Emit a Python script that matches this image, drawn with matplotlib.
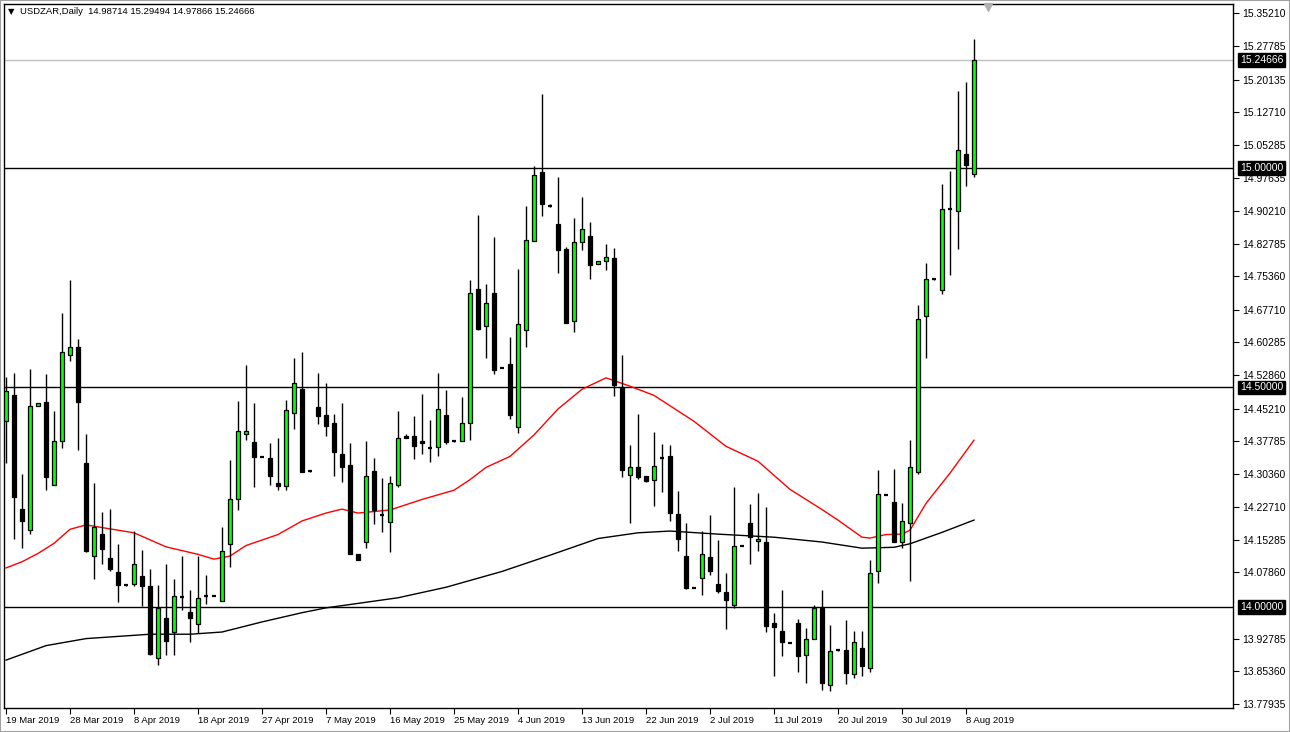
import matplotlib
matplotlib.use("Agg")
import matplotlib.pyplot as plt
import matplotlib.transforms as mtransforms

plt.rcParams['font.family'] = ['Liberation Sans', 'DejaVu Sans']

# ---------------- data ----------------
dates = ["19 Mar 2019", "28 Mar 2019", "8 Apr 2019", "18 Apr 2019", "27 Apr 2019",
         "7 May 2019", "16 May 2019", "25 May 2019", "4 Jun 2019", "13 Jun 2019",
         "22 Jun 2019", "2 Jul 2019", "11 Jul 2019", "20 Jul 2019", "30 Jul 2019",
         "8 Aug 2019"]

opens = [14.423, 14.484, 14.223, 14.175, 14.457, 14.468, 14.279, 14.377, 14.573, 14.593,
         14.328, 14.117, 14.166, 14.111, 14.079, 14.049, 14.052, 14.071, 14.048, 13.883,
         13.975, 13.943, 14.022, 13.988, 13.961, 14.024, 14.025, 14.013, 14.143, 14.245,
         14.393, 14.376, 14.342, 14.339, 14.282, 14.276, 14.443, 14.496, 14.309, 14.455,
         14.437, 14.420, 14.348, 14.323, 14.120, 14.148, 14.309, 14.210, 14.193, 14.279,
         14.389, 14.389, 14.377, 14.363, 14.364, 14.437, 14.377, 14.377, 14.418, 14.725,
         14.640, 14.716, 14.545, 14.554, 14.411, 14.632, 14.833, 14.991, 14.914, 14.873,
         14.816, 14.652, 14.832, 14.846, 14.782, 14.788, 14.795, 14.502, 14.301, 14.318,
         14.298, 14.289, 14.340, 14.344, 14.211, 14.117, 14.044, 14.065, 14.115, 14.053,
         14.034, 14.005, 14.139, 14.191, 14.150, 14.148, 13.964, 13.946, 13.918, 13.964,
         13.891, 13.927, 13.998, 13.823, 13.901, 13.903, 13.848, 13.907, 13.860, 14.083,
         14.255, 14.239, 14.148, 14.192, 14.308, 14.662, 14.747, 14.721, 14.907, 14.902,
         15.032, 14.98714]
highs = [14.523, 14.534, 14.303, 14.542, 14.464, 14.530, 14.447, 14.669, 14.746, 14.611,
         14.394, 14.282, 14.216, 14.223, 14.144, 14.050, 14.173, 14.130, 14.087, 14.051,
         14.099, 14.064, 14.116, 14.039, 14.116, 14.073, 14.026, 14.182, 14.335, 14.469,
         14.551, 14.464, 14.343, 14.373, 14.385, 14.471, 14.567, 14.582, 14.310, 14.533,
         14.510, 14.439, 14.464, 14.373, 14.120, 14.378, 14.340, 14.293, 14.298, 14.446,
         14.393, 14.434, 14.486, 14.426, 14.533, 14.494, 14.378, 14.478, 14.744, 14.892,
         14.735, 14.842, 14.546, 14.614, 14.771, 14.914, 15.005, 15.169, 14.917, 14.980,
         14.820, 14.885, 14.933, 14.877, 14.788, 14.826, 14.818, 14.573, 14.369, 14.439,
         14.298, 14.398, 14.371, 14.368, 14.265, 14.192, 14.045, 14.172, 14.209, 14.153,
         14.078, 14.273, 14.140, 14.235, 14.260, 14.228, 13.987, 14.039, 13.919, 13.972,
         13.953, 14.005, 14.039, 13.960, 13.902, 13.971, 13.946, 13.946, 14.107, 14.312,
         14.256, 14.315, 14.238, 14.381, 14.687, 14.784, 14.748, 14.964, 14.994, 15.176,
         15.195, 15.29494]
lows = [14.329, 14.154, 14.134, 14.167, 14.457, 14.267, 14.279, 14.362, 14.561, 14.358,
        14.126, 14.064, 14.098, 14.081, 14.011, 14.048, 14.047, 14.003, 13.890, 13.867,
        13.890, 13.890, 13.994, 13.920, 13.940, 14.006, 14.024, 14.013, 14.092, 14.220,
        14.381, 14.274, 14.341, 14.278, 14.267, 14.267, 14.405, 14.308, 14.308, 14.417,
        14.390, 14.299, 14.285, 14.120, 14.107, 14.134, 14.189, 14.170, 14.125, 14.273,
        14.384, 14.336, 14.348, 14.331, 14.345, 14.371, 14.376, 14.377, 14.381, 14.630,
        14.567, 14.531, 14.544, 14.429, 14.397, 14.592, 14.833, 14.890, 14.912, 14.760,
        14.647, 14.626, 14.814, 14.748, 14.782, 14.767, 14.481, 14.297, 14.191, 14.291,
        14.285, 14.229, 14.262, 14.196, 14.127, 14.040, 14.043, 14.027, 14.072, 14.033,
        13.951, 13.998, 14.138, 14.097, 14.127, 13.943, 13.842, 13.888, 13.917, 13.852,
        13.827, 13.927, 13.811, 13.808, 13.900, 13.824, 13.839, 13.842, 13.852, 14.055,
        14.254, 14.148, 14.134, 14.059, 14.302, 14.568, 14.746, 14.713, 14.757, 14.815,
        14.958, 14.97866]
closes = [14.491, 14.251, 14.195, 14.457, 14.464, 14.297, 14.377, 14.582, 14.593, 14.467,
          14.128, 14.182, 14.132, 14.087, 14.051, 14.049, 14.098, 14.047, 13.892, 13.998,
          13.922, 14.025, 14.022, 13.975, 14.020, 14.024, 14.025, 14.127, 14.245, 14.400,
          14.400, 14.342, 14.342, 14.298, 14.276, 14.448, 14.511, 14.308, 14.309, 14.436,
          14.413, 14.352, 14.318, 14.120, 14.107, 14.299, 14.221, 14.210, 14.282, 14.386,
          14.384, 14.367, 14.373, 14.363, 14.450, 14.376, 14.377, 14.418, 14.716, 14.633,
          14.693, 14.540, 14.545, 14.438, 14.645, 14.836, 14.984, 14.917, 14.914, 14.813,
          14.647, 14.832, 14.861, 14.779, 14.788, 14.798, 14.506, 14.313, 14.320, 14.297,
          14.286, 14.322, 14.340, 14.215, 14.154, 14.044, 14.044, 14.121, 14.083, 14.036,
          14.015, 14.139, 14.139, 14.159, 14.155, 13.957, 13.954, 13.920, 13.918, 13.888,
          13.926, 13.998, 13.827, 13.900, 13.901, 13.850, 13.920, 13.865, 14.077, 14.257,
          14.255, 14.149, 14.195, 14.320, 14.656, 14.747, 14.747, 14.906, 14.907, 15.042,
          15.006, 15.24666]

# moving averages (bar index, value)
ma_red_bars = [0, 2, 4, 6, 8, 10, 12, 16, 20, 24, 26, 28, 30, 34, 37, 40, 42, 44, 48, 52,
               56, 58, 60, 63, 66, 69, 72, 75, 78, 81, 86, 90, 94, 98, 100, 102, 104, 107,
               108, 110, 112, 113, 115, 118, 121]
ma_red_vals = [14.089, 14.103, 14.122, 14.145, 14.177, 14.187, 14.181, 14.169, 14.137, 14.120,
               14.109, 14.116, 14.140, 14.165, 14.196, 14.214, 14.223, 14.214, 14.221, 14.245,
               14.266, 14.290, 14.318, 14.343, 14.392, 14.451, 14.496, 14.522, 14.503, 14.482,
               14.423, 14.366, 14.332, 14.268, 14.245, 14.222, 14.198, 14.159, 14.157, 14.165,
               14.166, 14.175, 14.236, 14.305, 14.380]
ma_black_bars = [0, 5, 10, 18, 23, 27, 32, 37, 40, 49, 55, 62, 68, 74, 79, 83, 89, 96, 102,
                 107, 111, 113, 117, 121]
ma_black_vals = [13.879, 13.912, 13.928, 13.938, 13.938, 13.943, 13.966, 13.987, 13.998, 14.021,
                 14.045, 14.081, 14.118, 14.156, 14.169, 14.173, 14.166, 14.159, 14.148, 14.134,
                 14.136, 14.144, 14.170, 14.198]

levels = [15.0, 14.5, 14.0]
last_price = 15.24666
ytick_vals = [15.35210, 15.27785, 15.20135, 15.12710, 15.05285, 14.97635, 14.90210, 14.82785,
              14.75360, 14.67710, 14.60285, 14.52860, 14.45210, 14.37785, 14.30360, 14.22710,
              14.15285, 14.07860, 13.92785, 13.85360, 13.77935]
header = "USDZAR,Daily  14.98714 15.29494 14.97866 15.24666"

# ---------------- figure ----------------
W, H = 1290, 732
fig = plt.figure(figsize=(W / 100, H / 100), dpi=100)
fig.patch.set_facecolor('white')
x0, x1, ytop, ybot = 4, 1233, 4, 708
ax = fig.add_axes([x0 / W, (H - ybot) / H, (x1 - x0) / W, (ybot - ytop) / H])

bar_step = 8.0
first_px = 6.0
ax.set_xlim((x0 - first_px) / bar_step, (x1 - first_px) / bar_step)
ppu = 439.0  # pixels per price unit
ax.set_ylim(14 + (607 - ybot) / ppu, 14 + (607 - ytop) / ppu)

n = len(opens)
xs = list(range(n))

# level lines
for lv in levels:
    ax.axhline(lv, color='black', lw=1.0, zorder=1)
ax.axhline(last_price, color='#c0c0c0', lw=1.0, zorder=1)

# moving averages
ax.plot(ma_black_bars, ma_black_vals, color='black', lw=1.0, zorder=2)
ax.plot(ma_red_bars, ma_red_vals, color='#ff0000', lw=1.0, zorder=2)

# candles
ax.vlines(xs, lows, highs, color='black', lw=1.0, zorder=3)
bw = 0.62
for i in xs:
    o, c = opens[i], closes[i]
    if abs(c - o) < 0.0015:
        ax.hlines(o, i - bw / 2, i + bw / 2, color='black', lw=1.6, zorder=4)
    else:
        col = '#00ff00' if c > o else 'black'
        ax.bar(i, abs(c - o), bottom=min(o, c), width=bw, color=col,
               edgecolor='black', linewidth=0.9, zorder=4)

# axes styling
for s in ax.spines.values():
    s.set_color('black')
    s.set_linewidth(1.0)
ax.yaxis.tick_right()
ax.set_yticks(ytick_vals)
ax.set_yticklabels([f"{v:.5f}" for v in ytick_vals])
ax.tick_params(axis='y', direction='out', length=4, width=0.8, pad=2.5,
               labelsize=7.5, colors='black')
ax.set_xticks(list(range(0, 8 * len(dates), 8)))
ax.set_xticklabels(dates)
for lbl in ax.get_xticklabels():
    lbl.set_horizontalalignment('left')
ax.tick_params(axis='x', direction='out', length=4, width=0.8, pad=2,
               labelsize=6.8, colors='black')

# highlighted price labels on the right
trans = mtransforms.blended_transform_factory(ax.transAxes, ax.transData)
lab_x = (1240 - x0) / (x1 - x0)
for lv in levels + [last_price]:
    ax.text(lab_x, lv, f"{lv:.5f}", transform=trans, ha='left', va='center',
            fontsize=7.5, color='white', clip_on=False, zorder=10,
            bbox=dict(boxstyle='square,pad=0.18', fc='black', ec='black'))

# header
ax.text(4 / (x1 - x0), 1 - 8 / (ybot - ytop), "\u25BC", transform=ax.transAxes,
        ha='left', va='center', fontsize=6, color='black',
        family=['DejaVu Sans'])
ax.text(16 / (x1 - x0), 1 - 8 / (ybot - ytop), header, transform=ax.transAxes,
        ha='left', va='center', fontsize=6.8, color='black')

# chart shift marker
ax.plot([(988 - first_px) / bar_step], [1 - 3 / (ybot - ytop)], marker='v',
        markersize=6, color='#b0b0b0', transform=mtransforms.blended_transform_factory(
            ax.transData, ax.transAxes), clip_on=False, zorder=11)

# outer border
fig.add_artist(plt.Rectangle((0, 0), 1, 1, transform=fig.transFigure, fill=False,
                             ec='#a0a0a0', lw=1.5))

fig.savefig("out.png", dpi=100, facecolor='white')
